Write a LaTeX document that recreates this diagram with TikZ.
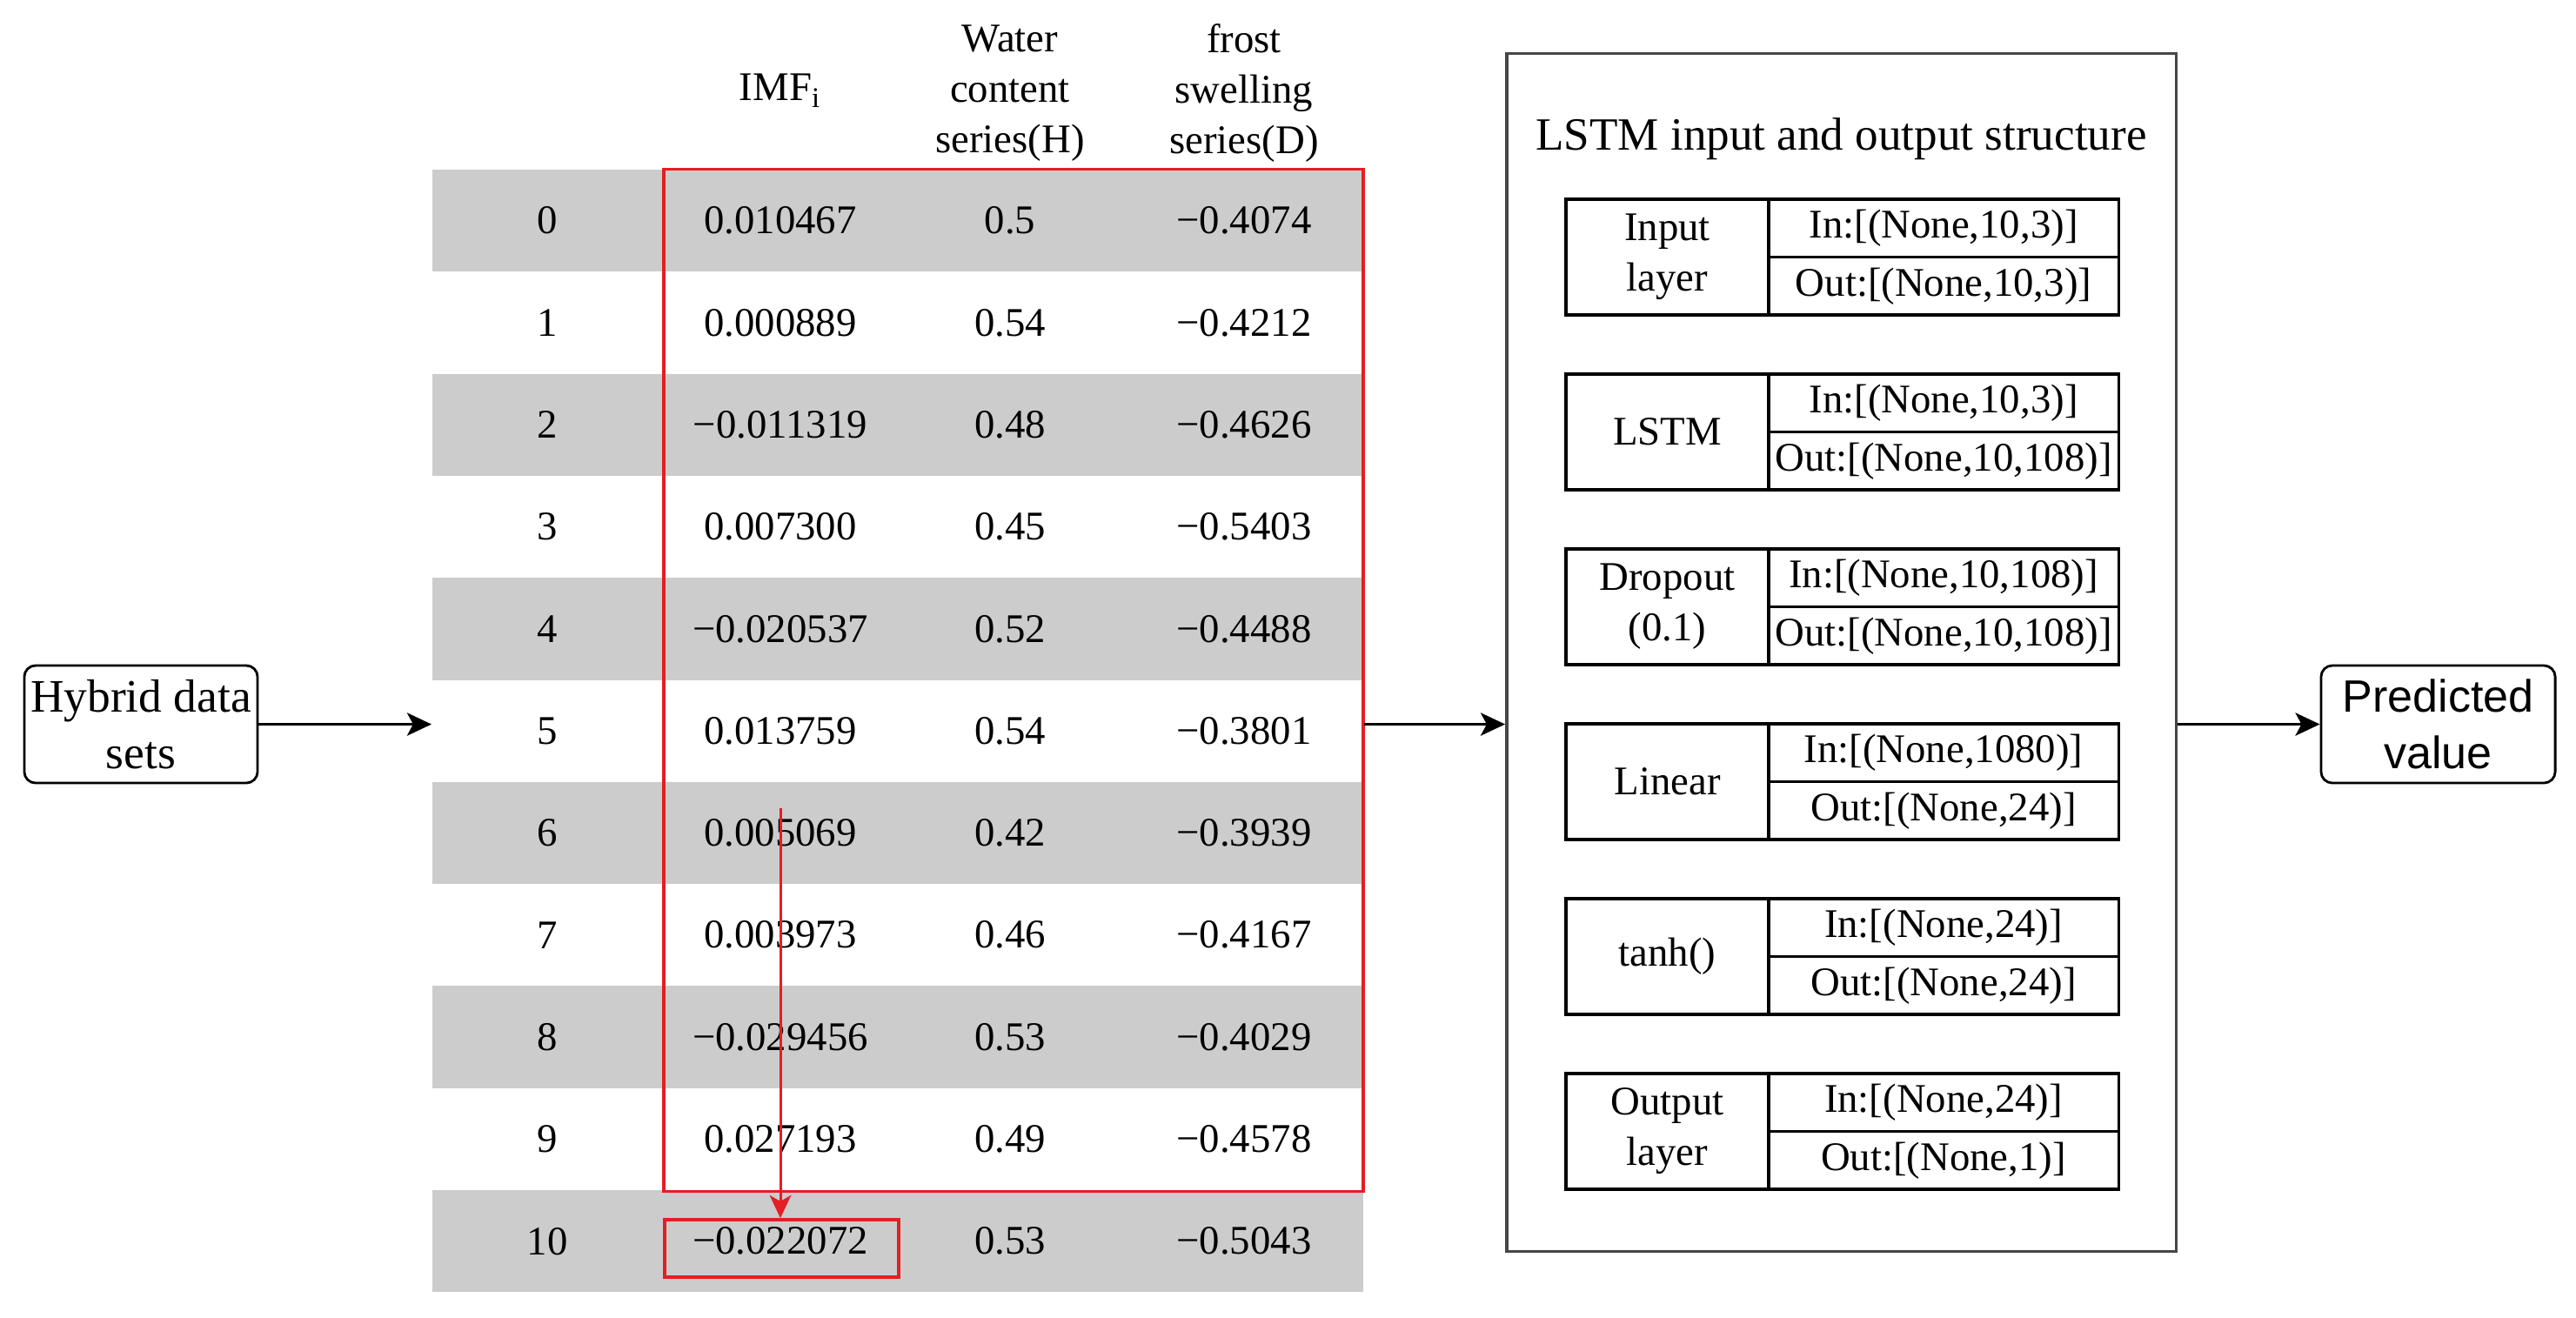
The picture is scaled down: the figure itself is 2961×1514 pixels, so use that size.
\documentclass[tikz,border=0pt]{standalone}
\usepackage{fontspec}
\setmainfont{Liberation Serif}
\newfontfamily\arialfont{Liberation Sans}
\usetikzlibrary{arrows.meta}
\definecolor{rowgray}{RGB}{204,204,204}
\definecolor{hlred}{RGB}{228,30,36}
\definecolor{boxgray}{RGB}{70,70,70}
\begin{document}
\begin{tikzpicture}[x=0.01cm,y=-0.01cm,
  cell/.style={inner sep=0pt,anchor=center,font=\fontsize{13.3}{16.5}\selectfont},
  hdr/.style={cell,align=center},
  laybox/.style={draw=black,line width=0.9pt,inner sep=0pt,align=center,font=\fontsize{13.3}{16.5}\selectfont},
  layleft/.style={laybox,minimum width=2.33cm,minimum height=1.33cm},
  layright/.style={laybox,minimum width=4.02cm,minimum height=0.665cm},
  roundbox/.style={draw=black,line width=0.8pt,rounded corners=3.7pt,inner sep=0pt,align=center,minimum width=2.68cm,minimum height=1.35cm},
  arr/.style={line width=0.8pt,-{Stealth[length=8pt,width=7.5pt,inset=2pt]}},
  redframe/.style={draw=hlred,line width=1pt,inner sep=0pt},
  redarr/.style={draw=hlred,line width=0.85pt,-{Stealth[length=7.5pt,width=7pt,inset=2pt]},color=hlred}
]
\useasboundingbox (0,0) rectangle (2961,1514);

% gray bands of the table
\foreach \r in {0,2,...,10}{
  \fill[rowgray] (497,{195+117.3*\r}) rectangle (1567,{195+117.3*(\r+1)});
}
\node[inner sep=0pt,minimum width=10.70cm,minimum height=12.90cm] (tbl) at (1032,840) {};

% header
\node[hdr] (hImf) at (897,104) {IMF\textsubscript{i}};
\node[hdr] (hH) at (1161,107) {Water\\content\\series(H)};
\node[hdr] (hD) at (1430,107) {frost\\swelling\\series(D)};

% table cells
\foreach \r/\a/\b/\c in {0/0.010467/0.5/−0.4074,
  1/0.000889/0.54/−0.4212,
  2/−0.011319/0.48/−0.4626,
  3/0.007300/0.45/−0.5403,
  4/−0.020537/0.52/−0.4488,
  5/0.013759/0.54/−0.3801,
  6/0.005069/0.42/−0.3939,
  7/0.003973/0.46/−0.4167,
  8/−0.029456/0.53/−0.4029,
  9/0.027193/0.49/−0.4578,
  10/−0.022072/0.53/−0.5043}{
  \pgfmathsetmacro{\yy}{195+117.3*(\r+0.5)}
  \node[cell] (idx\r) at (629,\yy) {\r};
  \node[cell] (imf\r) at (897,\yy) {\a};
  \node[cell] (h\r) at (1161,\yy) {\b};
  \node[cell] (d\r) at (1430,\yy) {\c};
}

% red window and target
\node[redframe,minimum width=8.04cm,minimum height=11.74cm] (win) at (1165,782) {};
\node[redframe,minimum width=2.69cm,minimum height=0.66cm] (hl) at (898.5,1435) {};
\coordinate (as) at (897,929);
\draw[redarr] (as) -- (as |- hl.north);

% hybrid data sets
\node[roundbox,font=\fontsize{15.2}{18.5}\selectfont] (hyb) at (162,832.5) {Hybrid data\\sets};
\draw[arr] (hyb.east) -- (hyb.east -| tbl.west);

% LSTM structure box
\node[draw=boxgray,line width=1pt,inner sep=0pt,minimum width=7.69cm,minimum height=13.76cm] (lstm) at (2116.5,750) {};
\node[inner sep=0pt,font=\fontsize{15.1}{18}\selectfont] (title) at (2116.5,160) {LSTM input and output structure};

\foreach \i/\nm/\inn/\outt in {0/{Input\\layer}/{In:[(None,10,3)]}/{Out:[(None,10,3)]},
  1/{LSTM}/{In:[(None,10,3)]}/{Out:[(None,10,108)]},
  2/{Dropout\\(0.1)}/{In:[(None,10,108)]}/{Out:[(None,10,108)]},
  3/{Linear}/{In:[(None,1080)]}/{Out:[(None,24)]},
  4/{tanh()}/{In:[(None,24)]}/{Out:[(None,24)]},
  5/{Output\\layer}/{In:[(None,24)]}/{Out:[(None,1)]}}{
  \pgfmathsetmacro{\yt}{229+201*\i}
  \node[layleft] (L\i) at (1916.5,{\yt+66.5}) {\nm};
  \node[layright] (I\i) at (2234,{\yt+33.25}) {\inn};
  \node[layright] (O\i) at (2234,{\yt+99.75}) {\outt};
}

% predicted value
\node[roundbox,minimum width=2.69cm,font=\arialfont\fontsize{14.8}{18.5}\selectfont] (pred) at (2802.5,832.5) {Predicted\\value};

\draw[arr] (tbl.east |- hyb.east) -- (lstm.west |- hyb.east);
\draw[arr] (lstm.east |- pred.west) -- (pred.west);
\end{tikzpicture}
\end{document}
